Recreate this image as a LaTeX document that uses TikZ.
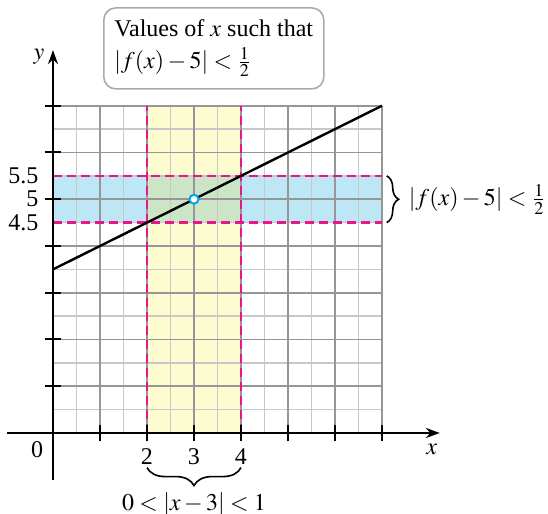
\documentclass[tikz,border=0pt]{standalone}
\usepackage{mathptmx}
\usepackage{fontspec}
\setmainfont{Liberation Serif}
\usepackage{xcolor}
\usetikzlibrary{positioning, arrows.meta, decorations.pathreplacing}
\definecolor{bandpink}{RGB}{234,20,140}
\definecolor{bandyellow}{RGB}{253,251,208}
\definecolor{bandblue}{RGB}{190,231,246}
\definecolor{bandgreen}{RGB}{203,229,198}
\definecolor{gridlight}{RGB}{200,200,200}
\definecolor{griddark}{RGB}{150,150,150}
\definecolor{holeblue}{RGB}{0,165,225}
\definecolor{boxgray}{RGB}{170,170,170}
\newcommand{\lblsize}{\fontsize{12}{14}\selectfont}

\begin{document}
\begin{tikzpicture}[
  x=23.5pt, y=23.375pt,
  >={Stealth[length=7pt, width=5pt]},
  minorgrid/.style={draw=gridlight, line width=0.8pt},
  majorgrid/.style={draw=griddark, line width=0.9pt},
  bound/.style={draw=bandpink, line width=1.3pt, dash pattern=on 4.5pt off 2.5pt},
  ax/.style={->, line width=1pt},
  tk/.style={line width=1pt},
  fline/.style={line width=1.2pt},
  hole/.style={circle, draw=holeblue, fill=white, line width=1pt,
               inner sep=0pt, minimum size=4.5pt},
  lbl/.style={font=\lblsize, inner sep=1pt},
  callout/.style={draw=boxgray, rounded corners=6pt, line width=0.8pt,
                  align=left, font=\lblsize, minimum width=110pt,
                  minimum height=40.5pt},
  br/.style={decorate, decoration={brace, amplitude=#1}, line width=0.8pt},
]
\useasboundingbox (-26.5pt,-40.5pt) rectangle (247.5pt,216.5pt);

% ===================== bands =====================
\fill[bandyellow] (2,0) rectangle (4,7);
\fill[bandblue] (0,4.5) rectangle (7,5.5);
\fill[bandgreen] (2,4.5) rectangle (4,5.5);

% ===================== grid =====================
\foreach \g in {0.5,1.5,...,6.5} {
  \draw[minorgrid] (\g,0) -- (\g,7);
  \draw[minorgrid] (0,\g) -- (7,\g);
}
\foreach \g in {1,...,7} {
  \draw[majorgrid] (\g,0) -- (\g,7);
  \draw[majorgrid] (0,\g) -- (7,\g);
}

% ===================== bounds =====================
\draw[bound] (2,0) -- (2,7);
\draw[bound] (4,0) -- (4,7);
\draw[bound] (0,4.5) -- (7,4.5);
\draw[bound] (0,5.5) -- (7,5.5);

% ===================== axes =====================
\draw[ax] (-0.98,0) -- (8.23,0);
\draw[ax] (0,-1.0) -- (0,8.19);
\foreach \t in {1,...,7} {
  \draw[tk] (\t,-0.18) -- (\t,0.18);
  \draw[tk] (-0.18,\t) -- (0.18,\t);
}
\node[lbl] (xl) at (8.06,-0.36) {$x$};
\node[lbl] (yl) at (-0.3,8.04) {$y$};
\node[lbl] (o) at (-0.34,-0.36) {0};
\node[lbl] (t2) at (2,-0.5) {2};
\node[lbl] (t3) at (3,-0.5) {3};
\node[lbl] (t4) at (4,-0.5) {4};
\node[lbl, anchor=east] (l55) at (-0.26,5.5) {5.5};
\node[lbl, anchor=east] (l5) at (-0.26,5) {5};
\node[lbl, anchor=east] (l45) at (-0.26,4.5) {4.5};

% ===================== graph =====================
\coordinate (f0) at (0,3.5);
\coordinate (f7) at (7,7);
\draw[fline] (f0) -- (f7);
\node[hole] (pt) at (3,5) {};

% ===================== braces =====================
\coordinate (rtop) at (7.1,5.5);
\coordinate (rbot) at (7.1,4.5);
\draw[br=6pt] (rtop) -- (rbot);
\node[lbl, anchor=west] (fr) at (7.52,5) {$|f(x)-5|<\frac{1}{2}$};
\coordinate (bl) at (2,-0.74);
\coordinate (brt) at (4,-0.74);
\draw[br=9pt] (brt) -- (bl);
\node[lbl] (xr) at (3,-1.53) {$0<|x-3|<1$};

% ===================== callout =====================
\node[callout, anchor=north west] (note) at (1.064,9.11)
  {Values of $x$ such that\\[2pt] $|f(x)-5|<\frac{1}{2}$};
\end{tikzpicture}
\end{document}
